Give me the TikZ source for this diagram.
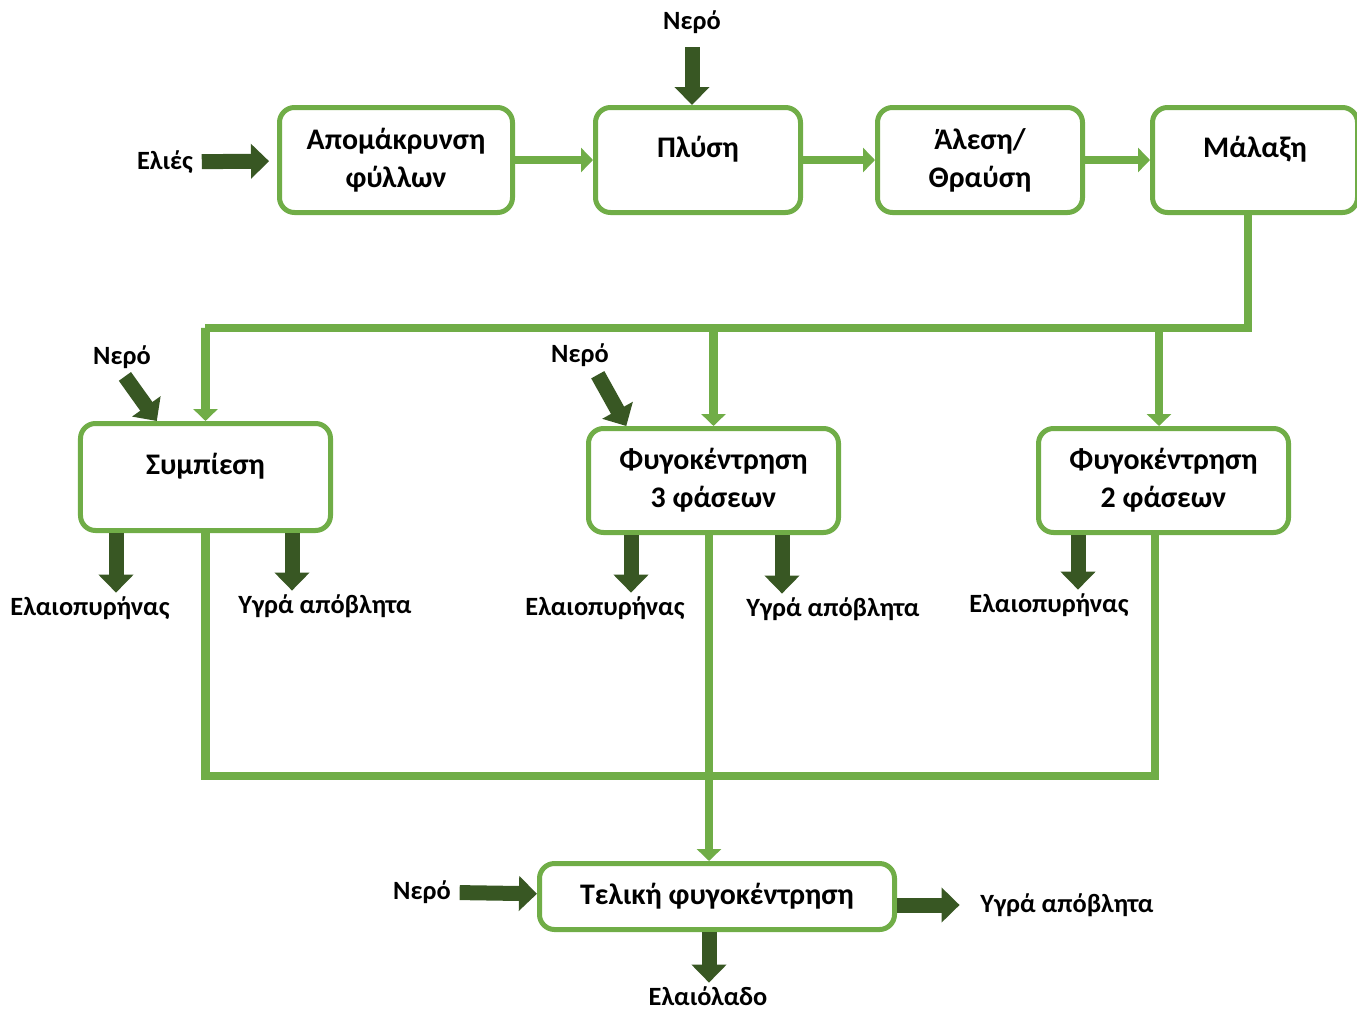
\documentclass[tikz,border=0pt]{standalone}
\usepackage{fontspec}
\setmainfont{Carlito}
\usepackage{xcolor}
\usetikzlibrary{arrows.meta}

\definecolor{leaf}{HTML}{70AD47}
\definecolor{olive}{HTML}{385723}

\begin{document}
\begin{tikzpicture}[x=0.2mm, y=-0.2mm,
		font=\bfseries\fontsize{15}{21.5}\selectfont,
		stage/.style={draw=leaf, line width=1mm, rounded corners=3mm, fill=white, align=center, inner sep=0pt,
			font=\bfseries\fontsize{17}{21.5}\selectfont},
		one line/.style={text depth=15pt},
		flow/.style={draw=leaf, line width=1.7mm, -{Triangle[width=4.8mm, length=2.4mm]}},
		pipe/.style={draw=leaf, line width=1.7mm},
		feed/.style={draw=olive, line width=3mm, -{Triangle[width=6.8mm, length=3.6mm]}},
		tag/.style={inner sep=2pt}]
		
		\useasboundingbox (0, 0) rectangle (1357, 1010);
		
		% stages
		\node [stage, minimum width=46.6mm, minimum height=21mm] (leaf removal) at (396, 160) {Απομάκρυνση\\φύλλων};
		\node [stage, one line, minimum width=41mm, minimum height=21mm] (washing) at (698, 160) {Πλύση};
		\node [stage, minimum width=41mm, minimum height=21mm] (crushing) at (980, 160) {Άλεση/\\Θραύση};
		\node [stage, one line, minimum width=41mm, minimum height=21mm] (malaxation) at (1255, 160) {Μάλαξη};
		
		\node [stage, one line, minimum width=50mm, minimum height=21.4mm] (pressing) at (205.5, 477) {Συμπίεση};
		\node [stage, minimum width=50mm, minimum height=20.8mm] (three phase) at (713.5, 480.5) {Φυγοκέντρηση\\3 φάσεων};
		\node [stage, minimum width=50mm, minimum height=20.8mm] (two phase) at (1163.5, 480.5) {Φυγοκέντρηση\\2 φάσεων};
		
		\node [stage, minimum width=71mm, minimum height=13.2mm] (final) at (717, 896.5) {Τελική φυγοκέντρηση};
		
		% inputs and outputs
		\node [tag] (olives) at (165, 162) {Ελιές};
		\node [tag] (water top) at (692, 22) {Νερό};
		\node [tag] (water press) at (122, 357) {Νερό};
		\node [tag] (water mid) at (580, 355) {Νερό};
		\node [tag] (water final) at (422, 892) {Νερό};
		
		\node [tag] (kernel press) at (90, 608) {Ελαιοπυρήνας};
		\node [tag] (waste press) at (325, 606) {Υγρά απόβλητα};
		\node [tag] (kernel mid) at (605, 608) {Ελαιοπυρήνας};
		\node [tag] (waste mid) at (833, 609) {Υγρά απόβλητα};
		\node [tag] (kernel two) at (1049, 605) {Ελαιοπυρήνας};
		\node [tag] (waste final) at (1067, 905) {Υγρά απόβλητα};
		\node [tag] (oil) at (708, 996) {Ελαιόλαδο};
		
		\coordinate (bus west) at (205, 328);
		\coordinate (split) at (1248, 328);
		\coordinate (oil bus) at (1155, 776);
		
		% main line
		\draw [flow] (leaf removal) -- (washing);
		\draw [flow] (washing) -- (crushing);
		\draw [flow] (crushing) -- (malaxation);
		
		\draw [flow] (malaxation.south -| split) |- (bus west) -| (pressing.north);
		\draw [flow] (three phase.north |- bus west) -- (three phase.north);
		\draw [flow] (1159, 328 |- bus west) -- (two phase.north -| 1159, 0);
		
		\draw [pipe] (pressing.south) |- (oil bus) -- (two phase.south -| oil bus);
		\draw [flow] (three phase.south -| 709, 0) -- (final.north -| 709, 0);
		
		% feeds
		\draw [feed, shorten <=1mm, shorten >=1.6mm] (olives) -- (leaf removal);
		\draw [feed, shorten <=2mm] (water top.south) -- (water top.south |- washing.north);
		\draw [feed, shorten <=1mm] (water press.south) -- (pressing.131);
		\draw [feed, shorten <=1mm] (water mid.-45) -- (three phase.148);
		\draw [feed, shorten <=1mm] (water final) -- (final);
		
		\draw [feed] (pressing.south -| 116, 0) -- (kernel press.north -| 116, 0);
		\draw [feed] (pressing.south -| 292, 0) -- (waste press.north -| 292, 0);
		\draw [feed] (three phase.south -| 631, 0) -- (kernel mid.north -| 631, 0);
		\draw [feed] (three phase.south -| 782, 0) -- (waste mid.north -| 782, 0);
		\draw [feed] (two phase.south -| 1078, 0) -- (kernel two.north -| 1078, 0);
		\draw [feed, shorten >=3.4mm] (final.east |- waste final) -- (waste final.west);
		\draw [feed] (final.south -| 709, 0) -- (oil.north -| 709, 0);
	\end{tikzpicture}
\end{document}
